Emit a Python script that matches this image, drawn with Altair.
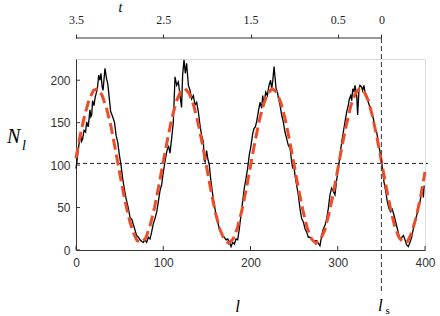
import altair as alt
import pandas as pd

# ---- data ----
l_obs = [0, 1.5, 2.5, 3.8, 5.3, 6.5, 7.6, 9.2, 11, 12.2, 14, 16, 17, 18, 19, 20.6, 22, 23, 24.5, 26,
         27.5, 28.6, 30, 31, 33.2, 35, 36.5, 38.2, 39.7, 41, 42, 44, 46, 47.8, 49.7, 51.6, 53.5, 55.4, 57.3, 60,
         62, 64, 65.7, 67.5, 69.5, 71.5, 73.4, 75.3, 77.2, 79, 81, 82.9, 84.8, 86.7, 88.6, 90.5, 92.5, 94.4, 96.3, 98.2,
         100.1, 102, 104, 106, 107.7, 109.6, 111.5, 113.5, 115.4, 117.3, 119.2, 121, 122.2, 123.8, 125.3, 126.8, 128.8, 130.7, 132.6, 134.5,
         136.4, 138.3, 140.2, 142.1, 144, 146, 147, 148, 149.7, 151, 152.8, 154.3, 156.7, 158.6, 160.5, 162.4, 164.3, 166.2, 168.1, 170,
         172, 173.9, 175.8, 177.7, 179.6, 181.5, 183.4, 185.3, 187.2, 189.1, 191, 192.9, 194.8, 196.7, 198.6, 200.6, 202.5, 204, 205.5, 207,
         209, 210.9, 212.8, 214, 215.5, 217.4, 219.3, 221.2, 223, 224.3, 225.4, 227, 228, 229.3, 230.8, 232.3, 233.8, 235.7, 237.6, 239.5,
         241.5, 243.4, 245.3, 247.2, 248.3, 249.5, 251, 252.9, 254.8, 256.7, 258.6, 260.6, 262.5, 264.4, 266.3, 268.2, 270.1, 272, 275.8, 277.7,
         279.6, 281.6, 283.5, 285.4, 287.3, 289.2, 291.1, 293, 295, 296.8, 298.7, 300.7, 302.6, 304.5, 306.4, 308.3, 310.3, 312.2, 313.3, 314.9,
         316, 317.2, 318.5, 319.8, 321.7, 322.8, 324.4, 325.5, 327.4, 328.5, 330, 331.2, 333.1, 335, 337, 338.9, 340.8, 342.7, 344.6, 346.5,
         348.4, 350.4, 351.5, 353, 355, 356.8, 358.7, 360.6, 362.5, 364.5, 366.4, 368.3, 370.2, 372.1, 373.5, 375.2, 377.1, 379, 380.9, 382.8,
         384.7, 386.6, 388.6, 390.5, 392.4, 394.3, 396.2, 397.4, 398.1, 399]
N_obs = [96, 108, 118, 127, 135, 128, 131, 141, 139, 151, 145, 165, 157, 159, 176, 170, 180, 184, 190, 206,
         200, 208, 192, 188, 214, 202, 195, 178, 163, 160, 157, 151, 135, 127, 112, 100, 84, 72, 61, 49,
         38, 36, 30, 24, 17, 15, 12, 10, 9, 12, 9, 15, 13, 21, 31, 37, 45, 57, 70, 77,
         92, 104, 116, 123, 114, 131, 150, 204, 194, 198, 182, 168, 206, 224, 208, 220, 194, 188, 178, 182,
         171, 174, 163, 147, 135, 127, 106, 104, 117, 108, 100, 84, 65, 53, 41, 33, 25, 21, 17, 15,
         12, 13, 9, 4, 9, 7, 13, 12, 25, 41, 57, 73, 84, 96, 112, 123, 137, 143, 145, 151,
         163, 174, 167, 182, 170, 186, 182, 194, 200, 190, 198, 216, 205, 190, 186, 178, 171, 159, 151, 139,
         131, 123, 120, 104, 96, 102, 88, 76, 65, 49, 37, 33, 25, 21, 15, 15, 12, 11, 11, 8,
         5, 17, 25, 29, 37, 49, 65, 73, 69, 65, 82, 96, 112, 127, 139, 151, 163, 171, 178, 182,
         176, 190, 186, 194, 182, 159, 190, 194, 192, 188, 194, 186, 182, 174, 168, 160, 155, 143, 139, 127,
         116, 104, 92, 80, 69, 57, 49, 45, 48, 41, 33, 25, 17, 12, 15, 17, 12, 6, 4, 9,
         15, 25, 33, 41, 49, 57, 69, 73, 62, 76]

l_fit = [0, 5, 10, 15, 20, 25, 30, 35, 40, 45, 50, 55, 60, 65, 70, 75, 80, 85, 90, 95,
         100, 105, 110, 115, 120, 125, 130, 135, 140, 145, 150, 155, 160, 165, 170, 175, 180, 185, 190, 195,
         200, 205, 210, 215, 220, 225, 230, 235, 240, 245, 250, 255, 260, 265, 270, 275, 280, 285, 290, 295,
         300, 305, 310, 315, 320, 325, 330, 335, 340, 345, 350, 355, 360, 365, 370, 375, 380, 385, 390, 395, 400]
N_fit = [108, 136, 159, 177, 188, 190, 182, 167, 146, 119, 91, 64, 40, 22, 11, 9, 14, 29, 50, 76,
         104, 131, 156, 175, 187, 190, 184, 170, 149, 124, 96, 68, 43, 24, 12, 8, 13, 26, 46, 71,
         99, 127, 152, 172, 185, 190, 186, 173, 153, 128, 100, 72, 47, 26, 13, 8, 12, 23, 43, 67,
         95, 123, 148, 170, 184, 190, 187, 176, 157, 132, 105, 77, 51, 29, 15, 9, 10, 21, 39, 63, 92]

N_mean = [102]
l_s = [350]
t_axis_span = [3.5, 0]
x_ticks = [0, 100, 200, 300, 400]
y_ticks = [0, 50, 100, 150, 200]
t_ticks = [3.5, 2.5, 1.5, 0.5, 0]

W, H = 349, 191
SANS = "Liberation Sans"
SERIF = "Liberation Serif"
AX = "#333333"

obs = pd.DataFrame({"l": l_obs, "N": N_obs})
fit = pd.DataFrame({"l": l_fit, "N": N_fit})

xscale = alt.Scale(domain=[0, 400], nice=False, zero=False)
yscale = alt.Scale(domain=[0, 225], nice=False, zero=False)

xaxis = alt.Axis(orient="bottom", values=x_ticks, ticks=False, tickSize=0, domain=True,
                 domainColor=AX, domainWidth=1,
                 labelFont=SANS, labelFontSize=12, labelColor=AX, labelPadding=7,
                 labelFlush=False, labelOverlap=False, grid=False, format="d",
                 title="l", titleFont=SERIF, titleFontStyle="italic", titleFontWeight="normal",
                 titleFontSize=17, titleColor="black", titleX=161, titleY=61,
                 titleBaseline="alphabetic", titleAlign="center")
yaxis = alt.Axis(values=y_ticks, ticks=False, tickSize=0, domain=True, domainColor=AX, domainWidth=1,
                 labelFont=SANS, labelFontSize=12, labelColor=AX, labelPadding=6,
                 labelFlush=False, labelOverlap=False, grid=False, title=None, format="d")


def X(field):
    return alt.X(field, scale=xscale, axis=None)


def Y(field):
    return alt.Y(field, scale=yscale)


black = alt.Chart(obs).mark_line(color="black", strokeWidth=1.3).encode(
    x=alt.X("l:Q", scale=xscale, axis=xaxis),
    y=alt.Y("N:Q", scale=yscale, axis=yaxis),
)
red = alt.Chart(fit).mark_line(color="#EE4D2A", strokeWidth=3, strokeDash=[11, 5]).encode(
    x=X("l:Q"), y=Y("N:Q"),
)
hline = alt.Chart(pd.DataFrame({"m": N_mean})).mark_rule(
    color="#222222", strokeWidth=1, strokeDash=[4, 3]).encode(
    x=alt.value(0), x2=alt.value(352), y=Y("m:Q")
)
vline = alt.Chart(pd.DataFrame({"ls": l_s})).mark_rule(
    color="#333333", strokeWidth=1, strokeDash=[5, 3], clip=False).encode(
    x=X("ls:Q"), y=alt.value(-21), y2=alt.value(233)
)
ls_l = alt.Chart(pd.DataFrame({"ls": l_s})).mark_text(
    text="l", font=SERIF, fontStyle="italic", fontSize=17, align="center",
    baseline="alphabetic", color="black", dx=-1).encode(
    x=X("ls:Q"), y=alt.value(252)
)
ls_s = alt.Chart(pd.DataFrame({"ls": l_s})).mark_text(
    text="s", font=SERIF, fontSize=11, align="left",
    baseline="alphabetic", color="black", dx=4).encode(
    x=X("ls:Q"), y=alt.value(255)
)
xt = alt.Chart(pd.DataFrame({"xt": x_ticks})).mark_rule(color=AX, strokeWidth=1).encode(
    x=X("xt:Q"), y=alt.value(H - 4), y2=alt.value(H)
)
yt = alt.Chart(pd.DataFrame({"yt": y_ticks})).mark_rule(color=AX, strokeWidth=1).encode(
    y=Y("yt:Q"), x=alt.value(0), x2=alt.value(4)
)
n_lab = alt.Chart(pd.DataFrame({"a": [0]})).mark_text(
    text="N", font=SERIF, fontStyle="italic", fontSize=20, align="left",
    baseline="alphabetic", color="black").encode(x=alt.value(-69), y=alt.value(84))
n_sub = alt.Chart(pd.DataFrame({"a": [0]})).mark_text(
    text="l", font=SERIF, fontStyle="italic", fontSize=14, align="left",
    baseline="alphabetic", color="black").encode(x=alt.value(-54), y=alt.value(91))

# top t-axis drawn on the same l scale: t = (l_s - l) / 100
t_vals_in_l = [l_s[0] - 100 * t for t in t_ticks]
taxis = alt.Axis(orient="top", offset=21, values=t_vals_in_l, domain=False, ticks=True,
                 tickSize=4, tickColor=AX, tickWidth=1,
                 labelFont=SERIF, labelFontSize=12, labelColor="#222222", labelPadding=8,
                 labelFlush=False, labelOverlap=False, grid=False,
                 labelExpr="datum.value == 350 ? '0' : format((350 - datum.value) / 100, '.1f')",
                 title="t", titleFont=SERIF, titleFontStyle="italic", titleFontWeight="normal",
                 titleFontSize=14, titleColor="black", titleX=44, titleY=-27,
                 titleBaseline="alphabetic", titleAlign="center", titleAngle=0)
tline = alt.Chart(pd.DataFrame({"t0": [t_axis_span[0]], "t1": [t_axis_span[1]]})).transform_calculate(
    a="350 - 100 * datum.t0", b="350 - 100 * datum.t1"
).mark_rule(color=AX, strokeWidth=1, clip=False).encode(
    x=alt.X("a:Q", scale=xscale, axis=taxis),
    x2="b:Q", y=alt.value(-21)
)

chart = alt.layer(
    hline, black, red, vline, ls_l, ls_s, xt, yt, n_lab, n_sub, tline
).resolve_axis(x="independent").properties(
    width=W, height=H,
    autosize=alt.AutoSizeParams(type="none"),
    padding={"left": 76, "top": 59, "right": 15, "bottom": 66},
).configure_view(stroke=None).configure(background="white")

chart.save("out.html", embed_options={"renderer": "svg", "actions": False})
